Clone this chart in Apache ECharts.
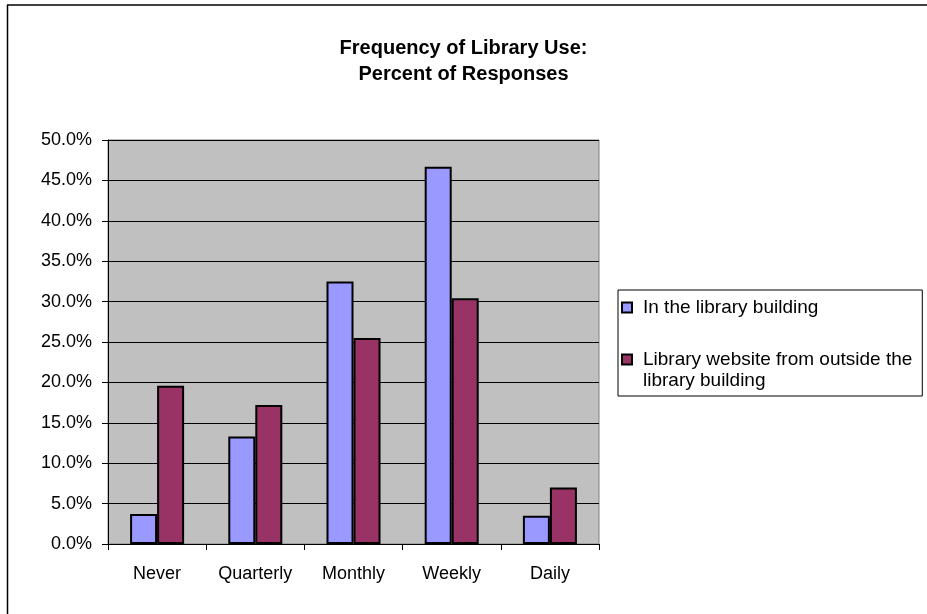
<!DOCTYPE html>
<html>
<head>
<meta charset="utf-8">
<script src="https://cdn.jsdelivr.net/npm/echarts@6/dist/echarts.min.js"></script>
<style>
html,body{margin:0;padding:0;background:#fff;}
#chart{width:927px;height:614px;}
</style>
</head>
<body>
<div id="chart"></div>
<script>
var categories = ['Never', 'Quarterly', 'Monthly', 'Weekly', 'Daily'];
var inBuilding = [3.7, 13.3, 32.5, 46.7, 3.5];
var website = [19.6, 17.2, 25.5, 30.4, 7.0];
var seriesNames = ['In the library building', 'Library website from outside the library building'];
var titleText = 'Frequency of Library Use:\nPercent of Responses';

var FONT = "'Liberation Sans', Arial, sans-serif";
var chart = echarts.init(document.getElementById('chart'), null, {renderer: 'canvas'});
chart.setOption({
  backgroundColor: '#ffffff',
  animation: false,
  textStyle: {fontFamily: FONT, color: '#000'},
  title: {
    text: titleText,
    left: 'center',
    top: 35,
    padding: 0,
    textStyle: {fontFamily: FONT, fontSize: 20, fontWeight: 'bold', lineHeight: 26, color: '#000'}
  },
  legend: {
    orient: 'vertical',
    left: 618,
    top: 290,
    padding: [7, 10, 5, 3],
    itemGap: 10,
    itemWidth: 10,
    itemHeight: 10,
    icon: 'rect',
    borderColor: '#000',
    borderWidth: 1,
    backgroundColor: '#fff',
    formatter: function (n) {
      return n === seriesNames[1] ? ' \nLibrary website from outside the\nlibrary building' : n;
    },
    textStyle: {fontFamily: FONT, fontSize: 19, color: '#000', lineHeight: 21, padding: [0, 0, 0, 6]},
    data: [seriesNames[0], seriesNames[1]]
  },
  grid: {
    left: 108, right: 328, top: 140, bottom: 70,
    show: true,
    backgroundColor: '#C0C0C0',
    borderColor: '#808080',
    borderWidth: 1
  },
  xAxis: {
    type: 'category',
    data: categories,
    axisLine: {lineStyle: {color: '#000', width: 1}},
    axisTick: {show: true, length: 6, lineStyle: {color: '#000'}},
    axisLabel: {fontFamily: FONT, fontSize: 18, color: '#000', margin: 21}
  },
  yAxis: {
    type: 'value',
    min: 0, max: 50, interval: 5,
    axisLine: {show: true, lineStyle: {color: '#000', width: 1}},
    axisTick: {show: true, length: 6, lineStyle: {color: '#000'}},
    splitLine: {show: true, lineStyle: {color: '#000', width: 1}},
    axisLabel: {
      fontFamily: FONT, fontSize: 18, color: '#000', margin: 16,
      formatter: function (v) { return v.toFixed(1) + '%'; }
    }
  },
  series: [
    {
      name: seriesNames[0], type: 'bar', data: inBuilding,
      barGap: '0%', barCategoryGap: '45%',
      itemStyle: {color: '#9999FF', borderColor: '#000', borderWidth: 2}
    },
    {
      name: seriesNames[1], type: 'bar', data: website,
      barGap: '0%', barCategoryGap: '45%',
      itemStyle: {color: '#993366', borderColor: '#000', borderWidth: 2}
    }
  ],
  graphic: [
    {type: 'line', shape: {x1: 7, y1: 5, x2: 927, y2: 5}, style: {stroke: '#000', lineWidth: 1.5}, silent: true},
    {type: 'line', shape: {x1: 7.5, y1: 5, x2: 7.5, y2: 614}, style: {stroke: '#000', lineWidth: 1.5}, silent: true}
  ]
});
</script>
</body>
</html>
